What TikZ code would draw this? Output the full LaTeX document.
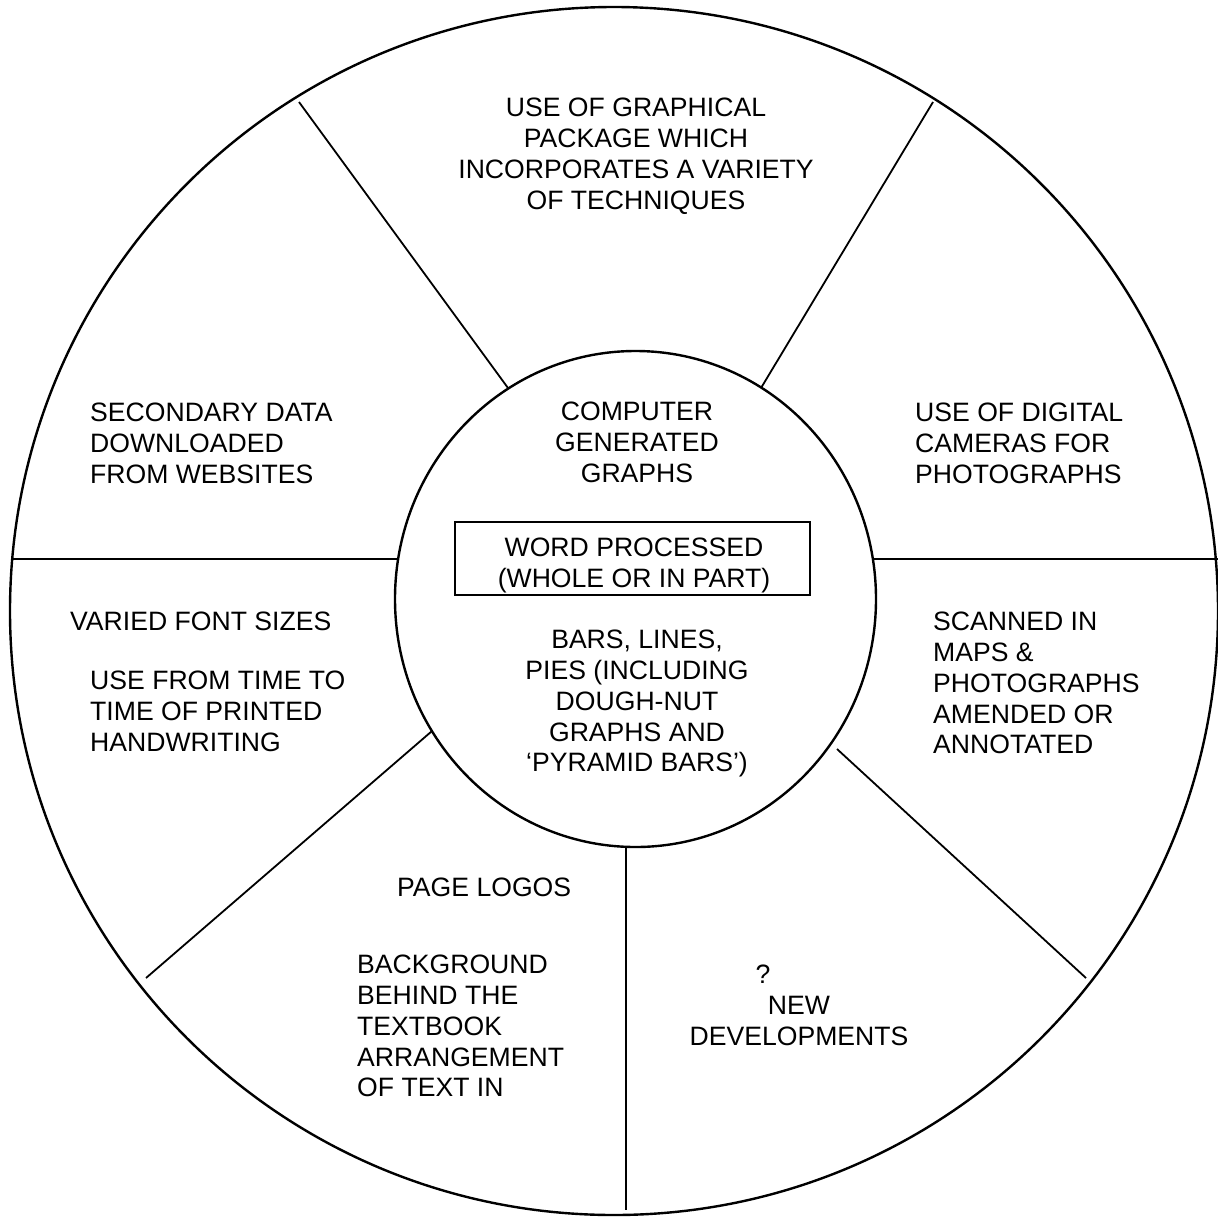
\documentclass[tikz,border=0pt]{standalone}
\usepackage{fontspec}
\setmainfont{Liberation Sans}
\usepackage{tikz}
\usetikzlibrary{positioning}
\tikzset{every label/.style={font=\fontsize{26.6}{30.8}\selectfont,inner sep=0pt}}
\tikzset{lblc/.style={every label,align=center,anchor=north},
         lbll/.style={every label,align=left,anchor=north west},
         wheel/.style={draw=black,line width=2.4pt},
         spoke/.style={draw=black,line width=1.8pt}}

\begin{document}
\begin{tikzpicture}[x=1pt,y=-1pt]
\useasboundingbox (0,0) rectangle (1218,1216);
% \draw[help lines,step=100] (0,0) grid (1218,1216);
\coordinate (rim) at (614,611);
\coordinate (hub) at (635.5,599);
\path[wheel] (rim) circle [radius=604pt];
\path[wheel] (hub) ellipse [x radius=240.5pt,y radius=248pt];
%
\coordinate (s1a) at (299,102);  \coordinate (s1b) at (508,388);
\coordinate (s2a) at (933,102);  \coordinate (s2b) at (761,388);
\coordinate (s3a) at (12,559);   \coordinate (s3b) at (398,559);
\coordinate (s4a) at (873,559);  \coordinate (s4b) at (1218,559);
\coordinate (s5a) at (432,731);  \coordinate (s5b) at (146,978);
\coordinate (s6a) at (626,847);  \coordinate (s6b) at (626,1210);
\coordinate (s7a) at (837,749);  \coordinate (s7b) at (1086,978);
\path[spoke] (s1a) -- (s1b);
\path[spoke] (s2a) -- (s2b);
\path[spoke] (s3a) -- (s3b);
\path[spoke] (s4a) -- (s4b);
\path[spoke] (s5a) -- (s5b);
\path[spoke] (s6a) -- (s6b);
\path[spoke] (s7a) -- (s7b);
%
\node (graphical) [lblc] at (636,98) {USE OF GRAPHICAL\\PACKAGE WHICH\\INCORPORATES A VARIETY\\OF TECHNIQUES};
\node (secondary) [lbll] at (90,403) {SECONDARY DATA\\DOWNLOADED\\FROM WEBSITES};
\node (computer) [lblc] at (637,402) {COMPUTER\\GENERATED\\GRAPHS};
\node (digital) [lbll] at (915,403) {USE OF DIGITAL\\CAMERAS FOR\\PHOTOGRAPHS};
\node (word) [lblc] at (634,538) {WORD PROCESSED\\(WHOLE OR IN PART)};
\draw[line width=1.8pt] (455,522) rectangle (810,595);
\node (varied) [lbll] at (70,612) {VARIED FONT SIZES};
\node (usefrom) [lbll] at (90,671) {USE FROM TIME TO\\TIME OF PRINTED\\HANDWRITING};
\node (scanned) [lbll] at (933,612) {SCANNED IN\\MAPS \&\\PHOTOGRAPHS\\AMENDED OR\\ANNOTATED};
\node (bars) [lblc] at (637,630) {BARS, LINES,\\PIES (INCLUDING\\DOUGH-NUT\\GRAPHS AND\\`PYRAMID BARS')};
\node (logos) [lbll] at (397,878) {PAGE LOGOS};
\node (background) [lbll] at (357,955) {BACKGROUND\\BEHIND THE\\TEXTBOOK\\ARRANGEMENT\\OF TEXT IN};
\node (newdev) [lblc] at (799,965) {?\hspace*{72pt}\\NEW\hspace*{44pt}\\DEVELOPMENTS};
%
\end{tikzpicture}
\end{document}
